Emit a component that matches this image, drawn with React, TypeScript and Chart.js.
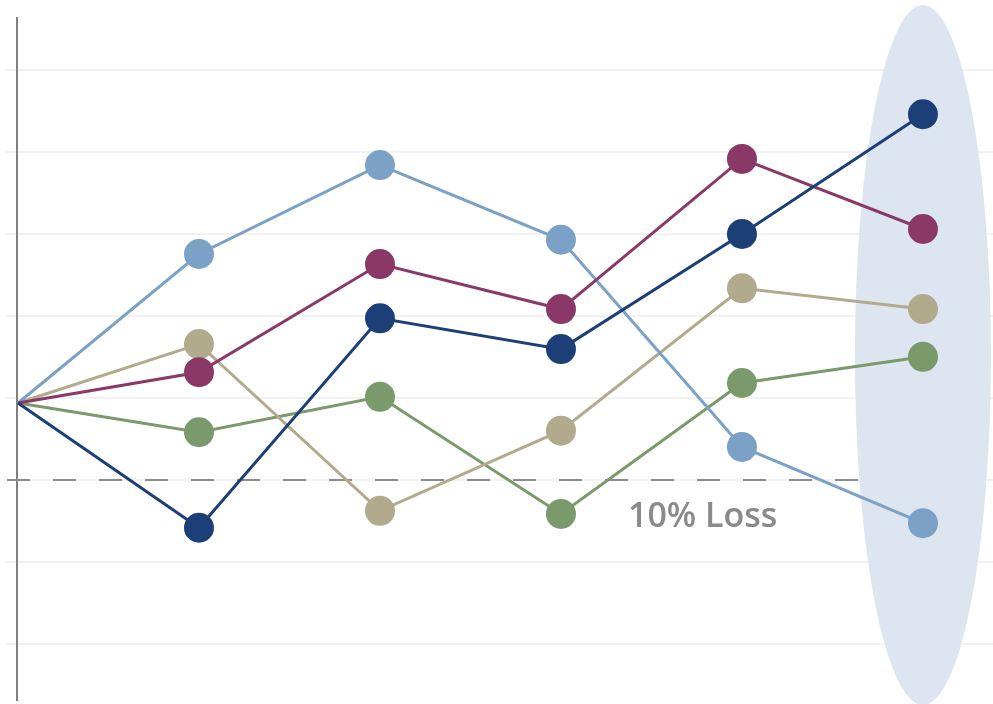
import React, { useEffect, useRef } from "react";
import { Chart, registerables } from "chart.js";

Chart.register(...registerables);

const periods = [0, 1, 2, 3, 4, 5];
const lightBlue = [100, 119.35, 130.9, 121.2, 94.3, 84.4];
const purple = [100, 104.0, 118.05, 112.2, 131.7, 122.6];
const navy = [100, 83.8, 111.0, 107.0, 121.95, 137.5];
const tan = [100, 107.65, 86.0, 96.4, 114.9, 112.2];
const green = [100, 96.2, 100.8, 85.6, 102.6, 106.0];
const gridTicks = [68.7, 79.35, 90, 100.65, 111.3, 121.95, 132.6, 143.25];
const lossLevel = 90;
const lossLabel = "10% Loss";

const seriesDefs = [
  { name: "Navy", values: navy, color: "#1d3f78" },
  { name: "Purple", values: purple, color: "#8a3868" },
  { name: "Light blue", values: lightBlue, color: "#7ba2c6" },
  { name: "Tan", values: tan, color: "#b2aa8c" },
  { name: "Green", values: green, color: "#7a9a6c" },
];

const overlayPlugin = {
  id: "overlay",
  beforeDatasetsDraw(chart: any) {
    const { ctx, scales } = chart;
    const xs = scales.x;
    const ys = scales.y;
    ctx.save();
    const cx = xs.getPixelForValue(periods[periods.length - 1]);
    ctx.fillStyle = "#dde5f0";
    ctx.beginPath();
    ctx.ellipse(cx, 355, 68, 350, 0, 0, Math.PI * 2);
    ctx.fill();
    const y = ys.getPixelForValue(lossLevel);
    ctx.strokeStyle = "#8c8c8c";
    ctx.lineWidth = 2;
    ctx.setLineDash([23, 23]);
    ctx.beginPath();
    ctx.moveTo(7, y);
    ctx.lineTo(xs.getPixelForValue(4.66), y);
    ctx.stroke();
    ctx.setLineDash([]);
    ctx.fillStyle = "#8a8a8a";
    ctx.font = "600 34px 'Open Sans', sans-serif";
    ctx.textAlign = "left";
    ctx.textBaseline = "alphabetic";
    ctx.fillText(lossLabel, xs.getPixelForValue(3.37), y + 47);
    ctx.restore();
  },
};

export default function App() {
  const ref = useRef<HTMLCanvasElement | null>(null);
  useEffect(() => {
    if (!ref.current) return;
    const chart = new Chart(ref.current, {
      type: "line",
      data: {
        datasets: seriesDefs.map((s) => ({
          label: s.name,
          data: s.values.map((v, i) => ({ x: periods[i], y: v })),
          borderColor: s.color,
          backgroundColor: s.color,
          pointBackgroundColor: s.color,
          pointBorderColor: s.color,
          borderWidth: 3,
          pointRadius: (c: any) => (c.dataIndex === 0 ? 0 : 13.5),
          pointHoverRadius: 13.5,
          tension: 0,
        })),
      },
      options: {
        animation: false,
        responsive: false,
        maintainAspectRatio: false,
        layout: { autoPadding: false, padding: { top: 18, bottom: 4, left: 0, right: 0 } },
        plugins: { legend: { display: false }, tooltip: { enabled: false } },
        scales: {
          x: {
            type: "linear",
            display: false,
            min: -1 / 181,
            max: 5.387,
          },
          y: {
            min: 61.43,
            max: 150,
            afterFit: (s: any) => {
              s.width = 17;
            },
            afterBuildTicks: (s: any) => {
              s.ticks = gridTicks.map((v) => ({ value: v }));
            },
            ticks: { display: false },
            grid: {
              color: "#f2f2f2",
              lineWidth: 2,
              drawTicks: true,
              tickLength: 12,
              tickColor: "#f2f2f2",
            },
            border: { display: true, color: "#808080", width: 2 },
          },
        },
      },
      plugins: [overlayPlugin],
    });
    return () => chart.destroy();
  }, []);
  return (
    <div style={{ position: "fixed", left: 0, top: 0, width: 993, height: 704, background: "#fff" }}>
      <canvas ref={ref} width={993} height={704} style={{ width: 993, height: 704 }} />
    </div>
  );
}
